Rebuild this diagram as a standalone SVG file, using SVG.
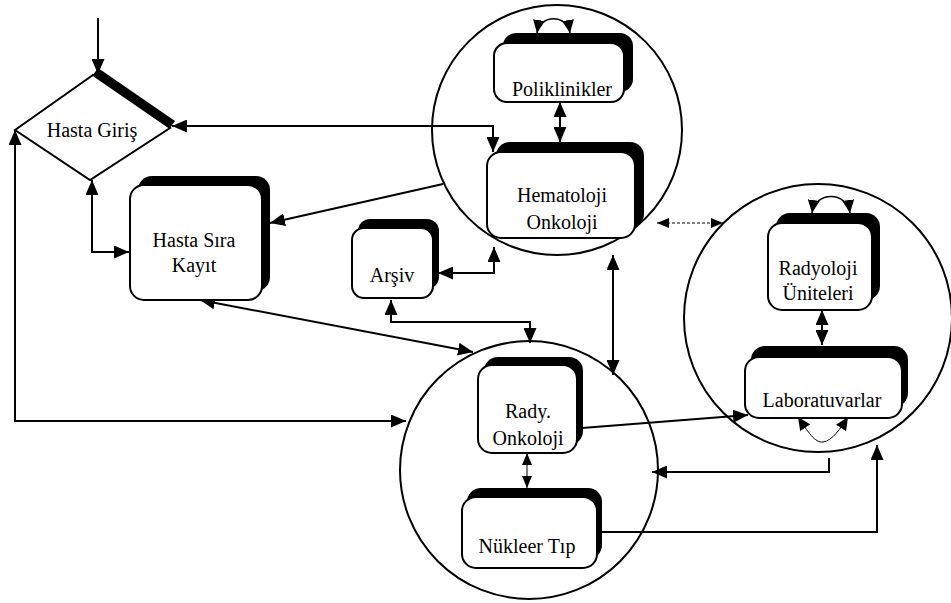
<svg xmlns="http://www.w3.org/2000/svg" width="951" height="603" viewBox="0 0 951 603">
<defs>
<marker id="a" viewBox="0 0 15 13" refX="15" refY="6.5" markerWidth="15" markerHeight="13" markerUnits="userSpaceOnUse" orient="auto-start-reverse"><path d="M0,0 L15,6.5 L0,13 z" fill="#000"/></marker>
<marker id="m" viewBox="0 0 13 12" refX="13" refY="6" markerWidth="13" markerHeight="12" markerUnits="userSpaceOnUse" orient="auto-start-reverse"><path d="M0,0 L13,6 L0,12 z" fill="#000"/></marker>
<marker id="s" viewBox="0 0 12 10" refX="12" refY="5" markerWidth="12" markerHeight="10" markerUnits="userSpaceOnUse" orient="auto-start-reverse"><path d="M0,0 L12,5 L0,10 z" fill="#000"/></marker>
</defs>
<style>
.c{fill:none;stroke:#000;stroke-width:2}
.l{fill:none;stroke:#000;stroke-width:2;marker-end:url(#a)}
.b{fill:none;stroke:#000;stroke-width:2;marker-start:url(#a);marker-end:url(#a)}
.k{fill:none;stroke:#000;stroke-width:1.5;marker-start:url(#m);marker-end:url(#m)}
.t{fill:none;stroke:#000;stroke-width:1;marker-start:url(#s);marker-end:url(#s)}
.sh{fill:#000}
.bx{fill:#fff;stroke:#000;stroke-width:2}
text{font-family:"Liberation Serif","Times New Roman",serif;font-size:20px;fill:#000;text-anchor:middle}
</style>
<rect width="951" height="603" fill="#fff"/>
<g id="clusters">
<circle class="c" cx="557" cy="130" r="125"/>
<circle class="c" cx="529" cy="470" r="129"/>
<circle class="c" cx="818" cy="318" r="134"/>
</g>
<g id="connectors">
<path class="l" d="M98,18 V74"/>
<path class="b" d="M493,152 V126 H172"/>
<path class="b" d="M15,130 V421 H406"/>
<path class="b" d="M92,180 V252 H129"/>
<path class="l" d="M443,184 L270,223"/>
<path class="b" d="M494,247 V273 H438"/>
<path class="b" d="M391,300 V322 H530 V343"/>
<path class="b" d="M200,300 L473,352"/>
<path class="b" d="M560,102 V142"/>
<path class="k" d="M537,33 C540,14 567,14 570,33"/>
<path class="b" d="M613,255 V375"/>
<path class="t" d="M657,223 H723" stroke-dasharray="3,2"/>
<path class="k" d="M812,213 C815,191 847,191 850,213"/>
<path class="b" d="M822,310 V345"/>
<path class="k" d="M798,417 C808,432 815,443 823,442 C832,441 841,428 848,417" style="stroke-width:1"/>
<path class="l" d="M582,428 L748,415"/>
<path class="l" d="M829,458 V472 H652"/>
<path class="l" d="M600,532 H877 V445"/>
<path class="t" d="M527,453 V488"/>
</g>
<g id="hasta-giris">
<polygon class="bx" points="15,130 93,75 170,128 90,180"/>
<polygon class="sh" points="93,75 170,128 175,121 98,68"/>
<text x="92" y="137">Hasta Giriş</text>
</g>
<g id="hasta-sira-kayit">
<rect class="sh" x="138" y="176" width="132" height="115" rx="14"/>
<rect class="bx" x="130" y="185" width="132" height="115" rx="14"/>
<text x="194" y="247">Hasta Sıra</text>
<text x="194" y="272">Kayıt</text>
</g>
<g id="arsiv">
<rect class="sh" x="358" y="219" width="81" height="70" rx="12"/>
<rect class="bx" x="352" y="228" width="81" height="70" rx="12"/>
<text x="392" y="282">Arşiv</text>
</g>
<g id="poliklinikler">
<rect class="sh" x="503" y="33" width="130" height="59" rx="13"/>
<rect class="bx" x="494" y="43" width="130" height="59" rx="13"/>
<text x="562" y="96">Poliklinikler</text>
</g>
<g id="hematoloji-onkoloji">
<rect class="sh" x="496" y="142" width="148" height="86" rx="14"/>
<rect class="bx" x="487" y="152" width="148" height="86" rx="14"/>
<text x="562" y="202">Hematoloji</text>
<text x="562" y="229">Onkoloji</text>
</g>
<g id="rady-onkoloji">
<rect class="sh" x="484" y="357" width="99" height="88" rx="14"/>
<rect class="bx" x="478" y="365" width="99" height="88" rx="14"/>
<text x="528" y="418">Rady.</text>
<text x="528" y="445">Onkoloji</text>
</g>
<g id="nukleer-tip">
<rect class="sh" x="467" y="488" width="135" height="71" rx="14"/>
<rect class="bx" x="462" y="497" width="135" height="71" rx="14"/>
<text x="527" y="553">Nükleer Tıp</text>
</g>
<g id="radyoloji-uniteleri">
<rect class="sh" x="776" y="213" width="104" height="87" rx="14"/>
<rect class="bx" x="768" y="223" width="104" height="87" rx="14"/>
<text x="818" y="275">Radyoloji</text>
<text x="818" y="300">Üniteleri</text>
</g>
<g id="laboratuvarlar">
<rect class="sh" x="751" y="346" width="157" height="61" rx="14"/>
<rect class="bx" x="745" y="357" width="157" height="61" rx="14"/>
<text x="822" y="407">Laboratuvarlar</text>
</g>
</svg>
